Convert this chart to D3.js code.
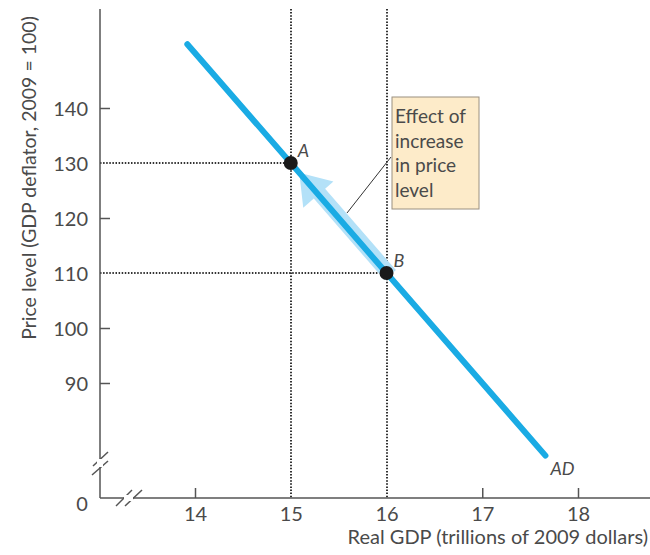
<!DOCTYPE html>
<html>
<head>
<meta charset="utf-8">
<script src="https://cdn.jsdelivr.net/npm/d3@7"></script>
<style>
  html, body { margin: 0; padding: 0; background: #fff; }
  svg { display: block; }
  text { font-family: Lato, "Open Sans", sans-serif; font-weight: 400; fill: #4a4a4a; }
</style>
</head>
<body>
<svg id="chart" width="650" height="555"></svg>
<script>
// Aggregate demand curve: real GDP (trillions of 2009 dollars) vs price level
const xTicks = [14, 15, 16, 17, 18];
const yTicks = [90, 100, 110, 120, 130, 140];
const adCurve = [ { gdp: 13.92, price: 151.6 }, { gdp: 17.66, price: 76.8 } ];
const points = [ { label: "A", gdp: 15, price: 130 }, { label: "B", gdp: 16, price: 110 } ];
const noteLines = ["Effect of", "increase", "in price", "level"];
const xTitle = "Real GDP (trillions of 2009 dollars)";
const yTitle = "Price level (GDP deflator, 2009 = 100)";

const svg = d3.select("#chart");
const originX = 100, originY = 498, axisTop = 9, axisRight = 650;

const x = d3.scaleLinear().domain([14, 18]).range([195, 578]);
const y = d3.scaleLinear().domain([90, 140]).range([383, 108]);

const axisColor = "#555";
const textColor = "#636363";
const guideX = points.map(p => p.gdp);
const guideY = points.map(p => p.price);

// dotted guide lines (snapped to whole pixels so the dots stay crisp)
const snap = v => Math.round(v);
const dotted = svg.append("g").attr("stroke", "#333").attr("stroke-width", 2)
  .attr("stroke-dasharray", "1.5,1.6");
points.forEach(p => {
  dotted.append("line").attr("x1", snap(x(p.gdp))).attr("x2", snap(x(p.gdp)))
    .attr("y1", axisTop).attr("y2", originY);
  dotted.append("line").attr("x1", originX).attr("x2", x(p.gdp))
    .attr("y1", snap(y(p.price))).attr("y2", snap(y(p.price)));
});

// axes
const xAxis = d3.axisBottom(x).tickValues(xTicks).tickSize(-10).tickPadding(9)
  .tickFormat(d3.format("d"));
const gx = svg.append("g").attr("transform", `translate(0,${originY})`).call(xAxis);
const yAxis = d3.axisLeft(y).tickValues(yTicks).tickSize(-10).tickPadding(12)
  .tickFormat(d3.format("d"));
const gy = svg.append("g").attr("transform", `translate(${originX},0)`).call(yAxis);

[gx, gy].forEach(g => {
  g.select(".domain").remove();
  g.selectAll(".tick line").attr("stroke", axisColor).attr("stroke-width", 1.5);
  g.selectAll(".tick text").style("font-size", "20px").style("font-family", "Lato, sans-serif")
    .style("font-weight", 400).attr("fill", textColor);
});
gx.selectAll(".tick line").filter(d => guideX.includes(d)).attr("stroke-opacity", 0);
gy.selectAll(".tick line").filter(d => guideY.includes(d)).attr("stroke-opacity", 0);
gy.selectAll(".tick text").attr("dy", "0.36em");

// axis lines with break marks
const axes = svg.append("g").attr("stroke", axisColor).attr("stroke-width", 1.5).attr("fill", "none");
axes.append("line").attr("x1", originX).attr("x2", originX).attr("y1", axisTop).attr("y2", originY);
axes.append("line").attr("x1", originX).attr("x2", axisRight).attr("y1", originY).attr("y2", originY);
// gaps between the break marks
svg.append("rect").attr("x", originX - 3).attr("y", 459).attr("width", 6).attr("height", 8).attr("fill", "#fff");
svg.append("rect").attr("x", 124).attr("y", originY - 3).attr("width", 9).attr("height", 6).attr("fill", "#fff");
[[93, 466, 108, 452], [92, 475, 108, 461], [116, 506, 132, 490], [125, 506, 142, 490]].forEach(s => {
  axes.append("line").attr("x1", s[0]).attr("y1", s[1]).attr("x2", s[2]).attr("y2", s[3]);
});
svg.append("text").attr("x", 82).attr("y", originY + 13).attr("text-anchor", "middle")
  .style("font-size", "20px").attr("fill", textColor).text("0");

// arrow showing movement along AD from B to A
const pA = [x(points[0].gdp), y(points[0].price)];
const pB = [x(points[1].gdp), y(points[1].price)];
const dx = pA[0] - pB[0], dy = pA[1] - pB[1];
const len = Math.hypot(dx, dy);
const ux = dx / len, uy = dy / len;   // unit vector B -> A
const px = -uy, py = ux;              // perpendicular
const tip = [pA[0] - ux * 13, pA[1] - uy * 13];
const base = [pA[0] - ux * 42, pA[1] - uy * 42];
const headW = 20, shaftW = 7.5, off = 1.5;
const tail = [pB[0] - ux * 4, pB[1] - uy * 4];
const arrowPts = [
  [tail[0] + px * (shaftW + off), tail[1] + py * (shaftW + off)],
  [base[0] + px * (shaftW + off), base[1] + py * (shaftW + off)],
  [base[0] + px * headW, base[1] + py * headW],
  tip,
  [base[0] - px * headW, base[1] - py * headW],
  [base[0] - px * (shaftW - off), base[1] - py * (shaftW - off)],
  [tail[0] - px * (shaftW - off), tail[1] - py * (shaftW - off)]
];
svg.append("path").attr("d", d3.line()(arrowPts) + "Z").attr("fill", "#b3e1f8");

// AD curve
svg.append("path").datum(adCurve)
  .attr("d", d3.line().x(d => x(d.gdp)).y(d => y(d.price)))
  .attr("stroke", "#1aabe4").attr("stroke-width", 6).attr("stroke-linecap", "round")
  .attr("fill", "none");
svg.append("text").attr("x", x(adCurve[1].gdp) + 5).attr("y", y(adCurve[1].price) + 19)
  .style("font-size", "18px").style("font-style", "italic").attr("fill", "#3a3a3a").text("AD");

// points
svg.selectAll("circle.pt").data(points).join("circle").attr("class", "pt")
  .attr("cx", d => x(d.gdp)).attr("cy", d => y(d.price)).attr("r", 7).attr("fill", "#1a1a1a");
svg.selectAll("text.pt").data(points).join("text").attr("class", "pt")
  .attr("x", d => x(d.gdp) + 7).attr("y", d => y(d.price) - 6)
  .style("font-size", "18px").style("font-style", "italic").attr("fill", "#3a3a3a")
  .text(d => d.label);

// annotation box with leader line
svg.append("line").attr("x1", 347).attr("y1", 213).attr("x2", 391).attr("y2", 157)
  .attr("stroke", "#333").attr("stroke-width", 1);
svg.append("rect").attr("x", 392).attr("y", 97).attr("width", 87).attr("height", 112)
  .attr("fill", "#fdebc9").attr("stroke", "#9a9080").attr("stroke-width", 1);
svg.append("g").selectAll("text").data(noteLines).join("text")
  .attr("x", 395).attr("y", (d, i) => 123 + i * 24.7)
  .style("font-size", "19px").attr("fill", "#3a3a3a").text(d => d);

// axis titles
svg.append("text").attr("x", 648).attr("y", 544).attr("text-anchor", "end")
  .style("font-size", "20px").attr("fill", textColor).text(xTitle);
svg.append("text").attr("transform", "translate(36,178) rotate(-90)").attr("text-anchor", "middle")
  .style("font-size", "19.5px").attr("fill", textColor).text(yTitle);
</script>
</body>
</html>
